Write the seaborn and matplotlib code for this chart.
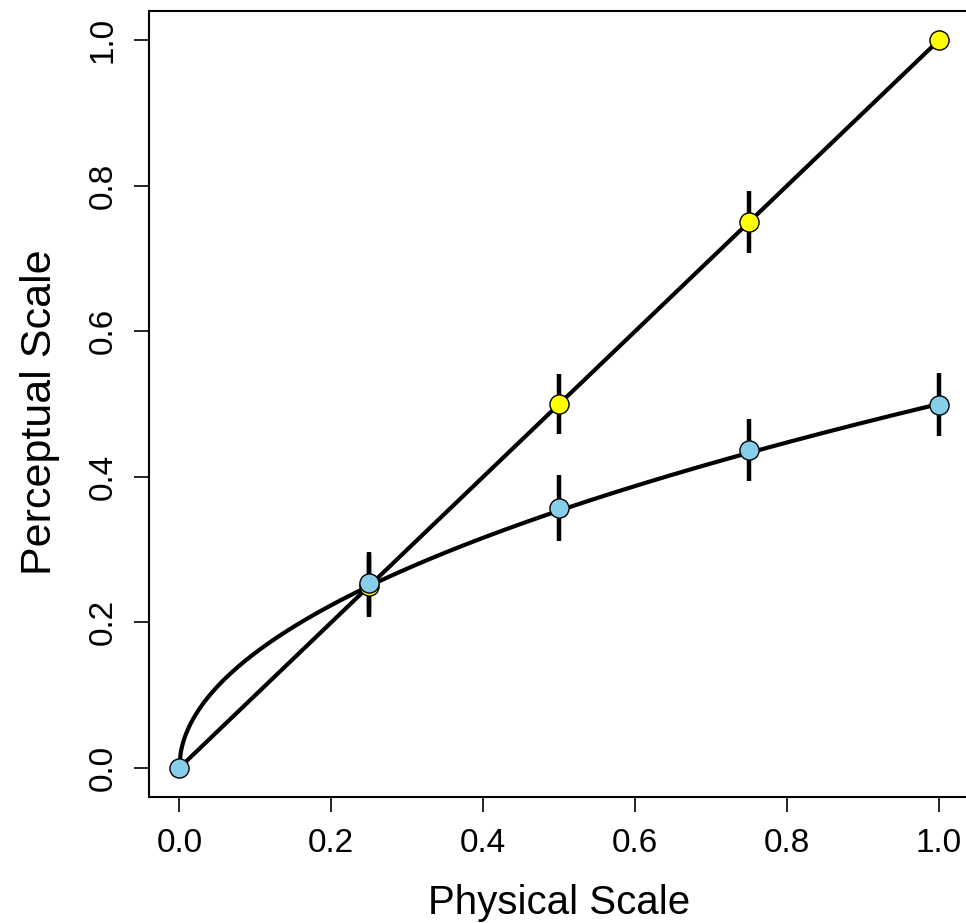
import numpy as np
import pandas as pd
import matplotlib
matplotlib.use("Agg")
import matplotlib.pyplot as plt
import seaborn as sns

# Data
physical = [0.0, 0.25, 0.5, 0.75, 1.0]
linear_resp = [0.0, 0.25, 0.5, 0.75, 1.0]
linear_err = [0.0, 0.043, 0.041, 0.043, 0.0]
power_resp = [0.0, 0.254, 0.357, 0.437, 0.499]
power_err = [0.0, 0.043, 0.045, 0.043, 0.043]
power_scale = 0.5
power_exponent = 0.5
x_ticks = [0.0, 0.2, 0.4, 0.6, 0.8, 1.0]
y_ticks = [0.0, 0.2, 0.4, 0.6, 0.8, 1.0]

sns.set_style("white")
plt.rcParams['font.family'] = ['Liberation Sans', 'DejaVu Sans']

fig = plt.figure(figsize=(9.66, 9.23), dpi=100)
ax = fig.add_axes([149 / 966, 126 / 923, 820.4 / 966, 786 / 923])

df_lin = pd.DataFrame({"x": physical, "y": linear_resp})
df_pow = pd.DataFrame({"x": physical, "y": power_resp})
xc = np.linspace(0, 1, 600)
df_curve = pd.DataFrame({"x": xc, "y": power_scale * xc ** power_exponent})

sns.lineplot(data=df_lin, x="x", y="y", ax=ax, color="black", lw=3, zorder=2, estimator=None, sort=False)
sns.lineplot(data=df_curve, x="x", y="y", ax=ax, color="black", lw=3, zorder=2, estimator=None, sort=False)

# error bars
for xs, ys, es in [(physical, linear_resp, linear_err), (physical, power_resp, power_err)]:
    for x, y, e in zip(xs, ys, es):
        if e > 0:
            ax.vlines(x, y - e, y + e, color="black", lw=3.2, zorder=3)

sns.scatterplot(data=df_lin.iloc[1:], x="x", y="y", ax=ax, color="#FFFF00", s=190,
                edgecolor="black", linewidth=1.0, zorder=4)
sns.scatterplot(data=df_pow, x="x", y="y", ax=ax, color="#87CEEB", s=190,
                edgecolor="black", linewidth=1.0, zorder=5)

ax.set_xlim(-0.04, 1.04)
ax.set_ylim(-0.04, 1.04)
ax.set_xticks(x_ticks)
ax.set_yticks(y_ticks)
ax.set_xticklabels([f"{t:.1f}" for t in x_ticks], fontsize=24)
ax.set_yticklabels([f"{t:.1f}" for t in y_ticks], fontsize=24, rotation=90, va="center")
ax.tick_params(axis="both", direction="out", length=11, width=1.2, color="black",
               labelcolor="black", bottom=True, left=True, pad=11)
for s in ax.spines.values():
    s.set_color("black")
    s.set_linewidth(1.5)
ax.set_xlabel("Physical Scale", fontsize=29, labelpad=18, color="black")
ax.set_ylabel("Perceptual Scale", fontsize=31, color="black")
ax.yaxis.set_label_coords(-0.108, 0.49)
ax.grid(False)

fig.savefig("out.png", dpi=100)
